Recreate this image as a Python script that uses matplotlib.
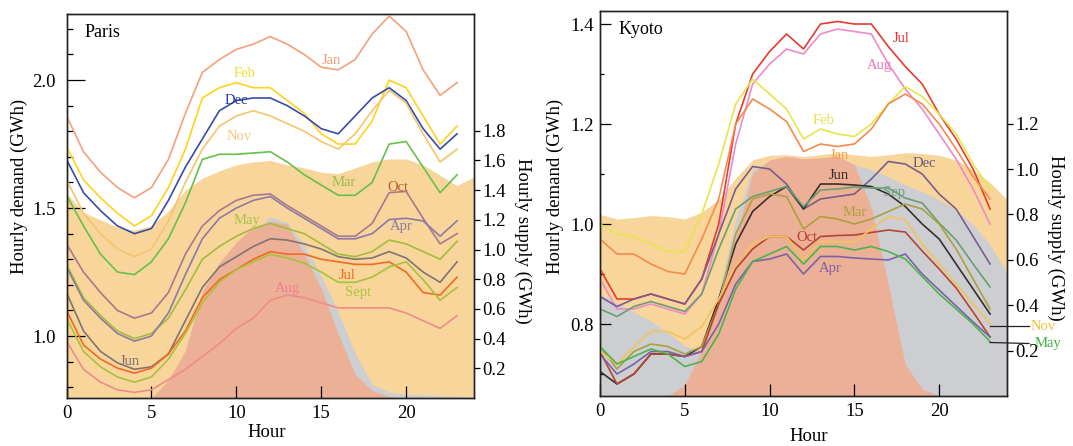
import numpy as np
import matplotlib
matplotlib.use('Agg')
from matplotlib import pyplot as plt

plt.rcParams['font.family'] = ['Liberation Serif', 'DejaVu Serif']
plt.rcParams['font.size'] = 13.5

hours = list(range(24))
supply_hours = list(range(25))

# Paris hourly demand (GWh)
paris_jan = [1.86, 1.72, 1.64, 1.58, 1.54, 1.58, 1.69, 1.87, 2.03, 2.08, 2.12, 2.14, 2.17, 2.14, 2.10, 2.05, 2.04, 2.08, 2.18, 2.25, 2.19, 2.04, 1.94, 1.99]
paris_feb = [1.74, 1.61, 1.54, 1.48, 1.43, 1.47, 1.58, 1.73, 1.93, 1.97, 1.99, 1.97, 1.97, 1.92, 1.87, 1.79, 1.75, 1.75, 1.84, 2.00, 1.97, 1.86, 1.75, 1.82]
paris_dec = [1.69, 1.56, 1.49, 1.43, 1.40, 1.42, 1.53, 1.66, 1.77, 1.88, 1.92, 1.93, 1.93, 1.90, 1.86, 1.81, 1.79, 1.86, 1.93, 1.97, 1.92, 1.81, 1.73, 1.79]
paris_nov = [1.61, 1.48, 1.40, 1.34, 1.31, 1.34, 1.45, 1.60, 1.73, 1.82, 1.86, 1.88, 1.86, 1.83, 1.80, 1.76, 1.73, 1.79, 1.88, 1.96, 1.91, 1.79, 1.68, 1.73]
paris_mar = [1.55, 1.43, 1.32, 1.25, 1.24, 1.29, 1.38, 1.52, 1.69, 1.71, 1.71, 1.715, 1.72, 1.68, 1.63, 1.59, 1.55, 1.55, 1.60, 1.75, 1.76, 1.66, 1.56, 1.63]
paris_oct = [1.36, 1.25, 1.17, 1.10, 1.07, 1.09, 1.17, 1.32, 1.43, 1.49, 1.53, 1.55, 1.555, 1.51, 1.47, 1.43, 1.39, 1.39, 1.44, 1.56, 1.565, 1.46, 1.36, 1.40]
paris_apr = [1.27, 1.14, 1.07, 1.01, 0.98, 1.00, 1.09, 1.24, 1.38, 1.46, 1.50, 1.53, 1.545, 1.50, 1.46, 1.42, 1.38, 1.38, 1.40, 1.455, 1.46, 1.45, 1.39, 1.45]
paris_may = [1.28, 1.15, 1.08, 1.02, 0.99, 1.01, 1.07, 1.18, 1.30, 1.35, 1.39, 1.42, 1.44, 1.42, 1.40, 1.36, 1.32, 1.31, 1.33, 1.375, 1.36, 1.33, 1.30, 1.37]
paris_jun = [1.17, 1.02, 0.94, 0.895, 0.87, 0.88, 0.93, 1.06, 1.19, 1.27, 1.31, 1.35, 1.38, 1.375, 1.36, 1.34, 1.31, 1.30, 1.305, 1.33, 1.305, 1.25, 1.21, 1.29]
paris_jul = [1.10, 0.965, 0.91, 0.875, 0.855, 0.875, 0.93, 1.02, 1.15, 1.22, 1.26, 1.30, 1.33, 1.32, 1.32, 1.30, 1.29, 1.28, 1.28, 1.29, 1.25, 1.17, 1.16, 1.23]
paris_sep = [1.07, 0.94, 0.88, 0.84, 0.82, 0.84, 0.91, 1.01, 1.13, 1.21, 1.26, 1.29, 1.32, 1.305, 1.285, 1.25, 1.21, 1.21, 1.23, 1.27, 1.29, 1.22, 1.14, 1.19]
paris_aug = [0.98, 0.87, 0.82, 0.79, 0.78, 0.79, 0.83, 0.87, 0.92, 0.97, 1.03, 1.07, 1.14, 1.16, 1.15, 1.13, 1.11, 1.11, 1.11, 1.11, 1.09, 1.06, 1.03, 1.08]

# Paris hourly supply (GWh)
paris_supply_a = [1.38, 1.25, 1.20, 1.15, 1.13, 1.16, 1.26, 1.40, 1.48, 1.53, 1.57, 1.59, 1.60, 1.57, 1.55, 1.52, 1.51, 1.55, 1.59, 1.61, 1.61, 1.57, 1.50, 1.43, 1.49]
paris_supply_b = [0, 0, 0, 0, 0, 0, 0.05, 0.25, 0.6, 0.85, 1.0, 1.12, 1.22, 1.18, 1.03, 0.82, 0.58, 0.30, 0.09, 0.04, 0.025, 0.02, 0.015, 0.01, 0.005]
paris_supply_c = [0, 0, 0, 0, 0, 0, 0.12, 0.32, 0.72, 0.91, 1.05, 1.15, 1.19, 1.17, 0.97, 0.74, 0.43, 0.16, 0.05, 0.01, 0, 0, 0, 0, 0]

# Kyoto hourly demand (GWh)
kyoto_jul = [0.91, 0.85, 0.85, 0.86, 0.85, 0.84, 0.89, 1.00, 1.20, 1.30, 1.345, 1.38, 1.35, 1.40, 1.405, 1.40, 1.40, 1.355, 1.315, 1.28, 1.22, 1.17, 1.11, 1.03]
kyoto_aug = [0.89, 0.83, 0.83, 0.84, 0.83, 0.82, 0.86, 0.98, 1.16, 1.28, 1.32, 1.35, 1.34, 1.38, 1.39, 1.385, 1.38, 1.32, 1.27, 1.23, 1.18, 1.13, 1.07, 1.00]
kyoto_feb = [1.0, 0.98, 0.975, 0.96, 0.945, 0.945, 1.02, 1.12, 1.24, 1.29, 1.26, 1.23, 1.17, 1.19, 1.18, 1.175, 1.20, 1.24, 1.275, 1.255, 1.22, 1.18, 1.12, 1.07]
kyoto_jan = [0.97, 0.94, 0.94, 0.92, 0.905, 0.90, 0.97, 1.05, 1.20, 1.25, 1.23, 1.205, 1.145, 1.16, 1.155, 1.16, 1.19, 1.24, 1.26, 1.24, 1.20, 1.15, 1.095, 1.05]
kyoto_dec = [0.855, 0.835, 0.85, 0.86, 0.85, 0.84, 0.89, 0.98, 1.07, 1.115, 1.11, 1.08, 1.03, 1.05, 1.055, 1.06, 1.09, 1.125, 1.12, 1.10, 1.06, 1.03, 0.975, 0.92]
kyoto_jun = [0.705, 0.68, 0.70, 0.74, 0.74, 0.735, 0.755, 0.85, 0.96, 1.025, 1.055, 1.075, 1.03, 1.08, 1.08, 1.078, 1.075, 1.06, 1.035, 1.00, 0.97, 0.92, 0.87, 0.82]
kyoto_sep = [0.83, 0.815, 0.835, 0.845, 0.835, 0.825, 0.86, 0.95, 1.03, 1.055, 1.065, 1.075, 1.035, 1.068, 1.07, 1.074, 1.072, 1.072, 1.052, 1.042, 1.002, 0.968, 0.92, 0.874]
kyoto_mar = [0.755, 0.71, 0.745, 0.76, 0.755, 0.74, 0.755, 0.84, 0.98, 1.05, 1.06, 1.055, 0.99, 1.015, 1.01, 1.00, 1.01, 1.025, 1.04, 1.03, 1.00, 0.95, 0.89, 0.83]
kyoto_oct = [0.745, 0.68, 0.70, 0.74, 0.74, 0.735, 0.745, 0.84, 0.91, 0.95, 0.975, 0.975, 0.948, 0.975, 0.977, 0.978, 0.983, 0.988, 0.984, 0.946, 0.91, 0.872, 0.824, 0.774]
kyoto_apr = [0.74, 0.70, 0.72, 0.745, 0.745, 0.735, 0.745, 0.80, 0.88, 0.925, 0.93, 0.94, 0.90, 0.935, 0.935, 0.932, 0.93, 0.928, 0.94, 0.90, 0.868, 0.836, 0.804, 0.774]
kyoto_nov = [0.745, 0.72, 0.755, 0.785, 0.785, 0.77, 0.795, 0.85, 0.92, 0.96, 0.975, 0.975, 0.93, 0.965, 0.965, 0.964, 0.99, 1.015, 1.008, 0.96, 0.92, 0.88, 0.84, 0.80]
kyoto_may = [0.755, 0.72, 0.735, 0.75, 0.74, 0.715, 0.725, 0.78, 0.87, 0.925, 0.94, 0.955, 0.92, 0.955, 0.955, 0.948, 0.955, 0.945, 0.93, 0.895, 0.86, 0.83, 0.80, 0.765]

# Kyoto hourly supply (GWh)
kyoto_supply_a = [0.80, 0.78, 0.786, 0.795, 0.79, 0.78, 0.81, 0.865, 0.96, 1.04, 1.06, 1.063, 1.055, 1.063, 1.072, 1.063, 1.055, 1.063, 1.072, 1.068, 1.06, 1.04, 0.997, 0.94, 0.865]
kyoto_supply_b = [0.45, 0.41, 0.37, 0.33, 0.28, 0.22, 0.20, 0.46, 0.78, 1.0, 1.03, 1.045, 1.04, 1.045, 1.055, 1.02, 0.997, 0.966, 0.93, 0.90, 0.865, 0.82, 0.755, 0.667, 0.544]
kyoto_supply_c = [0, 0, 0, 0, 0, 0.05, 0.20, 0.42, 0.70, 0.98, 1.04, 1.055, 1.045, 1.05, 1.055, 1.02, 0.83, 0.49, 0.14, 0.03, 0, 0, 0, 0, 0]

# (series, line colour, label, label colour, label hour, label demand)
paris_lines = [
    (paris_jan, '#F4A07C', 'Jan', '#F29A78', 15.6, 2.078),
    (paris_feb, '#FFD21F', 'Feb', '#EEDF30', 10.5, 2.027),
    (paris_dec, '#3A4BA8', 'Dec', '#233A9C', 10.0, 1.92),
    (paris_nov, '#F6C56A', 'Nov', '#F3C878', 10.15, 1.78),
    (paris_mar, '#66C04A', 'Mar', '#9CBB4A', 16.3, 1.598),
    (paris_may, '#A3BD3C', 'May', '#A9C24A', 10.6, 1.453),
    (paris_oct, '#A8788C', 'Oct', '#B5622E', 19.5, 1.582),
    (paris_apr, '#8C7AA6', 'Apr', '#8A7CA6', 19.7, 1.426),
    (paris_jun, '#807474', 'Jun', '#807070', 3.7, 0.90),
    (paris_jul, '#F26A22', 'Jul', '#F06A1E', 16.5, 1.238),
    (paris_sep, '#A9C23C', 'Sept', '#A7C83C', 17.15, 1.172),
    (paris_aug, '#EE8C8C', 'Aug', '#EE7F90', 13.0, 1.1875),
]

kyoto_lines = [
    (kyoto_jul, '#E83A2E', 'Jul', '#E83030', 17.75, 1.372),
    (kyoto_aug, '#EE8AC8', 'Aug', '#E878B8', 16.45, 1.318),
    (kyoto_feb, '#E6E64A', 'Feb', '#E8E050', 13.2, 1.208),
    (kyoto_jan, '#F58A4C', 'Jan', '#F5A050', 14.1, 1.138),
    (kyoto_dec, '#7A5E8E', 'Dec', '#6E5A80', 19.1, 1.122),
    (kyoto_jun, '#3A2E2E', 'Jun', '#3A2A2A', 14.1, 1.098),
    (kyoto_sep, '#6A9E74', 'Sep', '#6FA080', 17.35, 1.064),
    (kyoto_mar, '#ABA23E', 'Mar', '#B0A040', 15.0, 1.024),
    (kyoto_oct, '#B84432', 'Oct', '#B84030', 12.2, 0.974),
    (kyoto_apr, '#7C62A8', 'Apr', '#8060A0', 13.6, 0.912),
    (kyoto_nov, '#F2C45A', None, None, 0, 0),
    (kyoto_may, '#4CB44C', None, None, 0, 0),
]

fill_colors = ['#F8D59A', '#CDCED2', '#ECB096']

fig = plt.figure(figsize=(10.73, 4.46), dpi=100)


def draw_city(rect, name, lines, supplies, ylim, yticks, yminor, y2lim, y2ticks,
              major_len, minor_len, ylab_pad):
    ax = fig.add_axes(rect)
    ax2 = ax.twinx()
    ax.set_zorder(ax2.get_zorder() + 1)
    ax.patch.set_visible(False)

    for vals, col in zip(supplies, fill_colors):
        ax2.fill_between(supply_hours, 0, vals, color=col, lw=0)

    for vals, col, lab, lab_col, lx, ly in lines:
        ax.plot(hours, vals, color=col, lw=1.2)
        if lab:
            ax.text(lx, ly, lab, color=lab_col, fontsize=10.5, ha='center', va='center')

    ax.set_xlim(0, 24)
    ax.set_xticks([0, 5, 10, 15, 20])
    ax.set_ylim(*ylim)
    ax.set_yticks(yticks)
    ax.set_yticks(yminor, minor=True)
    ax2.set_ylim(*y2lim)
    ax2.set_yticks(y2ticks)

    ax.tick_params(axis='y', which='major', direction='in', length=major_len, width=0.9, pad=ylab_pad)
    ax.tick_params(axis='y', which='minor', direction='in', length=minor_len, width=0.9)
    ax.tick_params(axis='x', direction='in', length=8.5, width=0.9, pad=5)
    ax2.tick_params(axis='y', direction='out', length=4, width=0.9, pad=2)
    for a in (ax, ax2):
        for s in a.spines.values():
            s.set_linewidth(1.0)
            s.set_color('#222222')

    ax.text(0.045, 0.953, name, transform=ax.transAxes, fontsize=13, ha='left', va='center')

    ax.set_xlabel('Hour', va='center')
    ax.xaxis.set_label_coords(0.49, -0.09)
    ax.set_ylabel('Hourly demand (GWh)', va='center')
    ax.yaxis.set_label_coords(-0.115, 0.55)
    ax2.set_ylabel('Hourly supply (GWh)', rotation=270, va='center')
    ax2.yaxis.set_label_coords(1.12, 0.41)
    return ax


ax_p = draw_city([0.062, 0.1076, 0.3798, 0.861], 'Paris', paris_lines,
                 [paris_supply_a, paris_supply_b, paris_supply_c],
                 (0.758, 2.258), [1.0, 1.5, 2.0],
                 [0.8, 0.9, 1.1, 1.2, 1.3, 1.4, 1.6, 1.7, 1.8, 1.9, 2.1, 2.2],
                 (0, 2.586), [0.2, 0.4, 0.6, 0.8, 1.0, 1.2, 1.4, 1.6, 1.8],
                 13, 4.3, 8)

ax_k = draw_city([0.5592, 0.1121, 0.3793, 0.8632], 'Kyoto', kyoto_lines,
                 [kyoto_supply_a, kyoto_supply_b, kyoto_supply_c],
                 (0.656, 1.426), [0.8, 1.0, 1.2, 1.4],
                 [0.7, 0.9, 1.1, 1.3],
                 (0, 1.696), [0.2, 0.4, 0.6, 0.8, 1.0, 1.2],
                 8, 3, 4.5)
ax_k.xaxis.set_label_coords(0.513, -0.104)
ax_k.yaxis.set_label_coords(-0.11, 0.545)

# leader lines for the Nov and May curves
ax_k.plot([23, 25.3], [kyoto_nov[-1] - 0.004, kyoto_nov[-1] - 0.004], color='#222222', lw=0.9, clip_on=False)
ax_k.plot([23, 25.3], [kyoto_may[-1] - 0.002, kyoto_may[-1] - 0.004], color='#222222', lw=0.9, clip_on=False)
ax_k.text(25.4, kyoto_nov[-1] - 0.004, 'Nov', color='#F0C040', fontsize=10.5, ha='left', va='center', clip_on=False)
ax_k.text(25.6, kyoto_may[-1] - 0.004, 'May', color='#40B040', fontsize=10.5, ha='left', va='center', clip_on=False)

fig.savefig('out.png', dpi=100)
